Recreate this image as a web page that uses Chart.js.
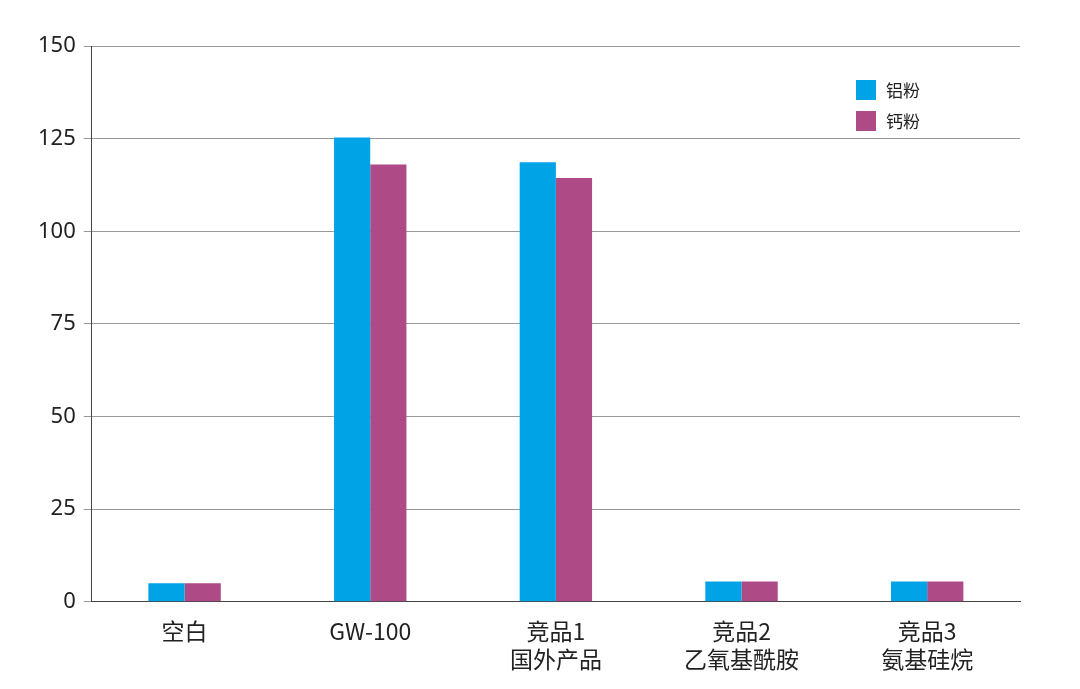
<!DOCTYPE html>
<html><head><meta charset="utf-8">
<script src="https://cdn.jsdelivr.net/npm/chart.js@4/dist/chart.umd.min.js"></script>
<style>
body{margin:0;background:#fff;font-family:"Noto Sans CJK SC","Noto Sans",sans-serif}
#wrap{position:relative;width:1080px;height:689px}
#legend{position:absolute;left:856px;top:74px;font-size:17px;color:#222}
#legend div{display:flex;align-items:center;height:31px}
#legend span{display:inline-block;width:20px;height:20px;margin-right:10px}
</style></head><body>
<div id="wrap"><canvas id="c" width="1080" height="689"></canvas>
<div id="legend"></div></div>
<script>
var categories = [['空白'], ['GW-100'], ['竞品1', '国外产品'], ['竞品2', '乙氧基酰胺'], ['竞品3', '氨基硅烷']];
var seriesNames = ['铝粉', '钙粉'];
var aluminium = [5, 125.3, 118.6, 5.5, 5.5];
var calcium = [5, 118, 114.4, 5.5, 5.5];
var colors = ['#00A3E6', '#AE4A86'];

var lg = document.getElementById('legend');
seriesNames.forEach(function(n, i) {
    lg.innerHTML += '<div><span style="background:' + colors[i] + '"></span>' + n + '</div>';
});

new Chart(document.getElementById('c').getContext('2d'), {
    type: 'bar',
    data: {
        labels: categories,
        datasets: [
            { label: seriesNames[0], data: aluminium, backgroundColor: colors[0] },
            { label: seriesNames[1], data: calcium, backgroundColor: colors[1] }
        ]
    },
    options: {
        responsive: false,
        animation: false,
        layout: { padding: { top: 46, right: 60, left: 30, bottom: 8 } },
        plugins: { legend: { display: false }, tooltip: { enabled: false } },
        datasets: { bar: { categoryPercentage: 0.39, barPercentage: 1 } },
        scales: {
            y: {
                min: 0, max: 150,
                ticks: { stepSize: 25, color: '#222', font: { size: 22, family: 'Noto Sans' }, padding: 8 },
                grid: { color: '#999', lineWidth: 1, tickLength: 8 },
                border: { color: '#444' }
            },
            x: {
                ticks: { color: '#222', font: { size: 23, family: 'Noto Sans CJK SC' }, padding: 8 },
                grid: { display: false },
                border: { color: '#444' }
            }
        }
    }
});
</script>
</body></html>
